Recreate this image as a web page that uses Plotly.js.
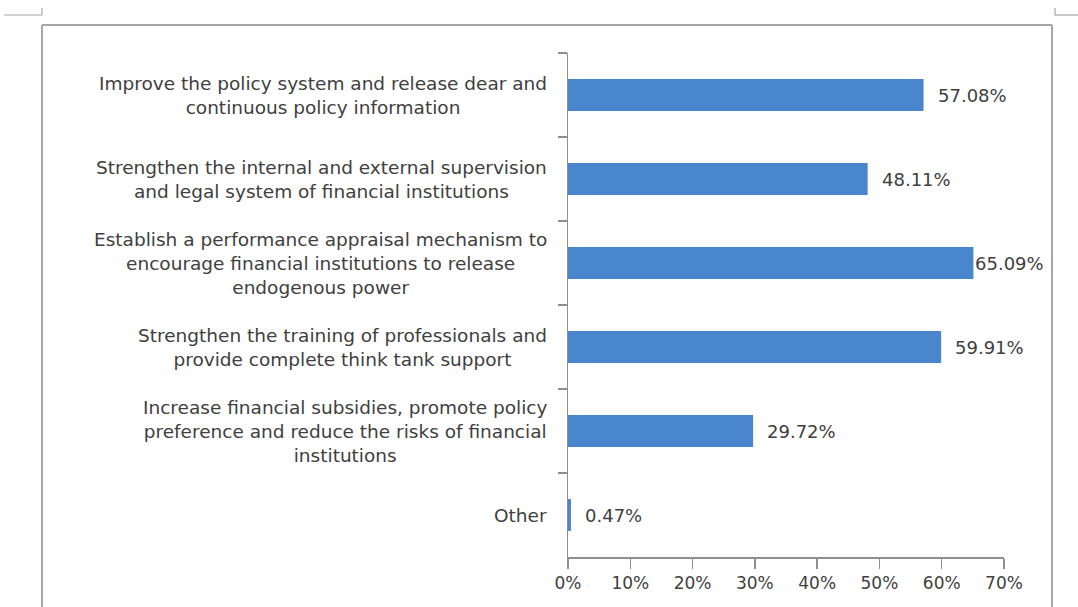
<!DOCTYPE html>
<html>
<head>
<meta charset="utf-8">
<script src="https://cdn.plot.ly/plotly-3.0.1.min.js"></script>
<style>
  html, body { margin: 0; padding: 0; background: #ffffff; }
  #chart { width: 1078px; height: 607px; }
</style>
</head>
<body>
<div id="chart"></div>
<script>
// ---- data ----
const categories = [
  "Improve the policy system and release dear and<br>continuous policy information",
  "Strengthen the internal and external supervision<br>and legal system of financial institutions",
  "Establish a performance appraisal mechanism to<br>encourage financial institutions to release<br>endogenous power",
  "Strengthen the training of professionals and<br>provide complete think tank support",
  "Increase financial subsidies, promote policy<br>preference and reduce the risks of financial<br>institutions",
  "Other"
];
const values = [57.08, 48.11, 65.09, 59.91, 29.72, 0.47];
const valueLabels = ["57.08%", "48.11%", "65.09%", "59.91%", "29.72%", "0.47%"];
const xTickVals = [0, 10, 20, 30, 40, 50, 60, 70];
const xTickText = ["0%", "10%", "20%", "30%", "40%", "50%", "60%", "70%"];

// ---- layout constants ----
const W = 1078, H = 607;
const M = { l: 568, r: 74, t: 53, b: 50 };
const pw = W - M.l - M.r, ph = H - M.t - M.b;
const px = v => (v - M.l) / pw;          // pixel x -> paper x
const py = v => (H - M.b - v) / ph;      // pixel y -> paper y

const FONT = '"DejaVu Sans", "Noto Sans", sans-serif';
const TEXT_COLOR = '#404040';
const AXIS_COLOR = '#8f8f8f';
const BAR_COLOR = '#4a86cd';
const FRAME_COLOR = '#a6a6a6';

const trace = {
  type: 'bar',
  orientation: 'h',
  y: categories,
  x: values,
  marker: { color: BAR_COLOR, line: { width: 0 } },
  width: 0.38,
  hoverinfo: 'none',
  cliponaxis: false
};

const annotations = [];
categories.forEach((c, i) => {
  annotations.push({
    xref: 'paper', yref: 'y', x: 0, y: c,
    xanchor: 'right', yanchor: 'middle', xshift: -19,
    text: c, showarrow: false, align: 'center',
    font: { family: FONT, size: 18.5, color: TEXT_COLOR }
  });
  annotations.push({
    xref: 'x', yref: 'y', x: values[i], y: c,
    xanchor: 'left', yanchor: 'middle', xshift: values[i] > 62 ? 0 : 12,
    text: valueLabels[i], showarrow: false,
    font: { family: FONT, size: 18, color: TEXT_COLOR }
  });
});

const line = (x0, y0, x1, y1, w) => ({
  type: 'line', xref: 'paper', yref: 'paper',
  x0: px(x0), y0: py(y0), x1: px(x1), y1: py(y1),
  line: { color: FRAME_COLOR, width: w }, layer: 'above'
});

const shapes = [
  // frame
  line(42, 25, 1052, 25, 2),
  line(42, 25, 42, 620, 2),
  line(1052, 25, 1052, 620, 2),
  // page corner marks
  line(4, 15, 42, 15, 1.2),
  line(42, 8, 42, 15, 1.2),
  line(1055, 15, 1078, 15, 1.2),
  line(1055, 8, 1055, 15, 1.2)
];

const layout = {
  width: W, height: H,
  margin: M,
  paper_bgcolor: '#ffffff',
  plot_bgcolor: '#ffffff',
  showlegend: false,
  font: { family: FONT, size: 17, color: TEXT_COLOR },
  xaxis: {
    range: [0, 70],
    tickvals: xTickVals,
    ticktext: xTickText,
    showgrid: false,
    zeroline: false,
    showline: true,
    linecolor: AXIS_COLOR,
    linewidth: 1.5,
    ticks: 'outside',
    ticklen: 10,
    tickwidth: 1.5,
    tickcolor: AXIS_COLOR,
    tickfont: { family: FONT, size: 17, color: TEXT_COLOR },
    fixedrange: true
  },
  yaxis: {
    type: 'category',
    autorange: 'reversed',
    showgrid: false,
    zeroline: false,
    showline: true,
    linecolor: AXIS_COLOR,
    linewidth: 1.5,
    ticks: 'outside',
    tickson: 'boundaries',
    ticklen: 9,
    tickwidth: 1.5,
    tickcolor: AXIS_COLOR,
    showticklabels: false,
    fixedrange: true
  },
  annotations: annotations,
  shapes: shapes
};

Plotly.newPlot('chart', [trace], layout, { displayModeBar: false, staticPlot: true });
</script>
</body>
</html>
